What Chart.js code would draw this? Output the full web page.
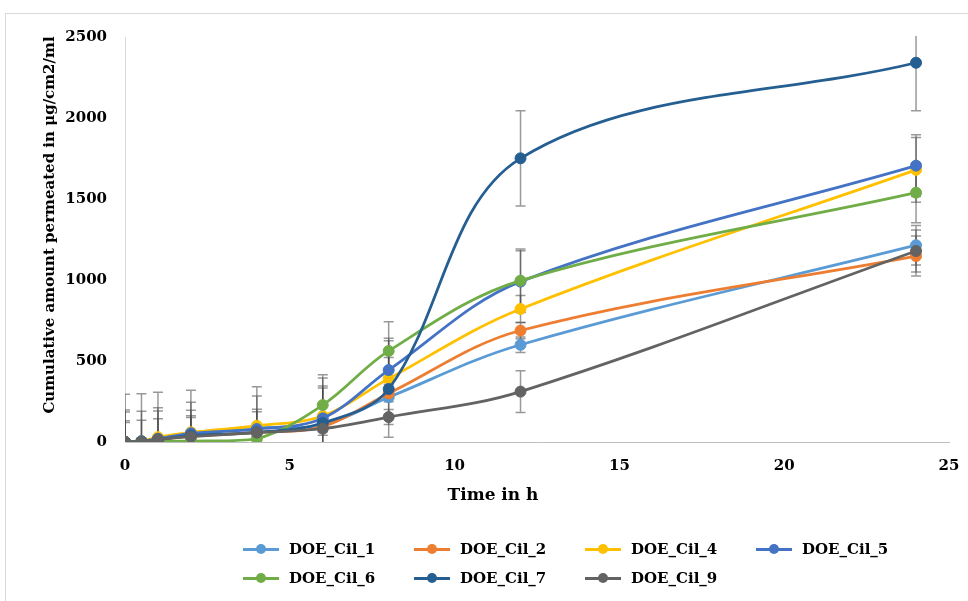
<!DOCTYPE html>
<html>
<head>
<meta charset="utf-8">
<script src="https://cdn.jsdelivr.net/npm/chart.js@4.4.0/dist/chart.umd.min.js"></script>
<style>
  html, body { margin:0; padding:0; background:#fff; overflow:hidden; }
  #wrap { position:relative; width:968px; height:601px; }
  #frame { position:absolute; left:5px; top:13px; width:1000px; height:700px; border:1px solid #d9d9d9; box-sizing:border-box; }
  #chart { position:absolute; left:0; top:0; }
  #legend { position:absolute; left:0; top:0; font:bold 15px 'DejaVu Serif', serif; color:#000; }
  .item { position:absolute; height:20px; display:flex; align-items:center; white-space:nowrap; }
  .sw { position:relative; width:36px; height:20px; margin-right:10px; }
  .sw i { position:absolute; left:0; right:0; top:8.5px; height:3px; }
  .sw b { position:absolute; left:13px; top:5px; width:10px; height:10px; border-radius:50%; }
</style>
</head>
<body>
<div id="wrap">
  <div id="frame"></div>
  <canvas id="chart" width="968" height="601"></canvas>
  <div id="legend"></div>
</div>
<script>
/* ---- data ---- */
const hours = [0, 0.5, 1, 2, 4, 6, 8, 12, 24];
const names = ['DOE_Cil_1','DOE_Cil_2','DOE_Cil_4','DOE_Cil_5','DOE_Cil_6','DOE_Cil_7','DOE_Cil_9'];

const cil1 = [0, 2, 10, 45, 88, 105, 276, 600, 1215];
const cil2 = [0, 0, 15, 35, 60, 95, 300, 688, 1148];
const cil4 = [0, 5, 30, 60, 100, 160, 391, 821, 1680];
const cil5 = [0, 5, 20, 54, 80, 146, 444, 990, 1706];
const cil6 = [0, 2, 5, 6, 20, 228, 562, 996, 1539];
const cil7 = [0, 3, 15, 40, 60, 117, 327, 1751, 2341];
const cil9 = [0, 2, 16, 33, 58, 82, 154, 311, 1179];

// +/- error bars
const cil1Err = [185, 188, 202, 200, 196, 228, 246, 48, 122];
const cil2Err = [121, 134, 129, 127, 20, 20, 30, 50, 123];
const cil4Err = [294, 293, 277, 259, 241, 235, 234, 84, 200];
const cil5Err = [131, 20, 171, 142, 122, 199, 196, 191, 190];
const cil6Err = [197, 15, 20, 15, 15, 187, 181, 195, 185];
const cil7Err = [20, 20, 20, 20, 20, 20, 30, 294, 296];
const cil9Err = [15, 15, 20, 119, 129, 20, 46, 129, 130];

const colors = ['#5B9BD5','#ED7D31','#FFC000','#4472C4','#70AD47','#255E91','#636363'];
const yTicks = [0, 500, 1000, 1500, 2000, 2500];
const xTicks = [0, 5, 10, 15, 20, 25];
const yTitle = 'Cumulative amount permeated in μg/cm2/ml';
const xTitle = 'Time in h';

const values = [cil1, cil2, cil4, cil5, cil6, cil7, cil9];
const errors = [cil1Err, cil2Err, cil4Err, cil5Err, cil6Err, cil7Err, cil9Err];
const FONT = "'DejaVu Serif', serif";

/* error bars, drawn under the lines, clipped to the plot area */
const errorBars = {
  id:'errorBars',
  beforeDatasetsDraw(chart) {
    const {ctx, chartArea:a, scales:{x, y}} = chart;
    ctx.save();
    ctx.beginPath(); ctx.rect(a.left, a.top - 1, a.right - a.left, a.bottom - a.top + 1); ctx.clip();
    ctx.strokeStyle = 'rgba(70,70,70,0.55)'; ctx.lineWidth = 1.5;
    chart.data.datasets.forEach(ds => {
      ds.data.forEach((p, i) => {
        const e = ds.errors[i];
        if (!e) return;
        const px = x.getPixelForValue(p.x), t = y.getPixelForValue(p.y + e), b = y.getPixelForValue(p.y - e);
        ctx.beginPath();
        ctx.moveTo(px, t); ctx.lineTo(px, b);
        ctx.moveTo(px - 5, t); ctx.lineTo(px + 5, t);
        ctx.moveTo(px - 5, b); ctx.lineTo(px + 5, b);
        ctx.stroke();
      });
    });
    ctx.restore();
  }
};

/* axis titles */
const titles = {
  id:'titles',
  afterDraw(chart) {
    const x = chart.ctx;
    x.save();
    x.fillStyle = '#000'; x.textAlign = 'center'; x.textBaseline = 'middle';
    x.font = 'bold 15px ' + FONT;
    x.translate(50, 225); x.rotate(-Math.PI / 2);
    x.fillText(yTitle, 0, 0);
    x.restore();
    x.save();
    x.fillStyle = '#000'; x.textAlign = 'center'; x.textBaseline = 'middle';
    x.font = 'bold 17px ' + FONT;
    x.fillText(xTitle, 493, 496);
    x.restore();
  }
};

const chart = new Chart(document.getElementById('chart'), {
  type:'line',
  data:{
    datasets: names.map((n, k) => ({
      label:n,
      data: hours.map((h, i) => ({x:h, y:values[k][i]})),
      errors: errors[k],
      borderColor: colors[k], backgroundColor: colors[k],
      borderWidth: 2.75, tension: 0.35,
      pointRadius: 5.5, pointHoverRadius: 5.5, pointBorderWidth: 1,
      pointBorderColor: colors[k], pointBackgroundColor: colors[k],
      order: -k
    }))
  },
  options:{
    responsive:false, animation:false, events:[],
    layout:{ padding:{ top:37, right:19, left:0, bottom:0 } },
    plugins:{ legend:{display:false}, tooltip:{enabled:false} },
    scales:{
      x:{
        type:'linear', min:0, max:25,
        afterBuildTicks: s => { s.ticks = xTicks.map(v => ({value:v})); },
        afterFit: s => { s.height = 159; s.paddingLeft = 0; s.paddingRight = 0; },
        grid:{ display:false, drawTicks:false },
        border:{ display:true, color:'#bfbfbf', width:1 },
        ticks:{ padding:15, color:'#000', callback:v => String(v), font:{family:FONT, size:15, weight:'bold'} }
      },
      y:{
        min:0, max:2500,
        afterBuildTicks: s => { s.ticks = yTicks.map(v => ({value:v})); },
        afterFit: s => { s.width = 125; },
        grid:{ display:false, drawTicks:false },
        border:{ display:true, color:'#d9d9d9', width:1 },
        ticks:{ padding:18, color:'#000', callback:v => String(v), font:{family:FONT, size:15, weight:'bold'} }
      }
    }
  },
  plugins:[errorBars, titles]
});

/* legend: 4 columns, 2 rows */
const leg = document.getElementById('legend');
names.forEach((n, k) => {
  const d = document.createElement('div');
  d.className = 'item';
  d.style.left = (243 + (k % 4) * 171) + 'px';
  d.style.top = (k < 4 ? 539 : 568) + 'px';
  d.innerHTML = '<span class="sw"><i style="background:' + colors[k] + '"></i><b style="background:' + colors[k] + '"></b></span>' + n;
  leg.appendChild(d);
});
</script>
</body>
</html>
